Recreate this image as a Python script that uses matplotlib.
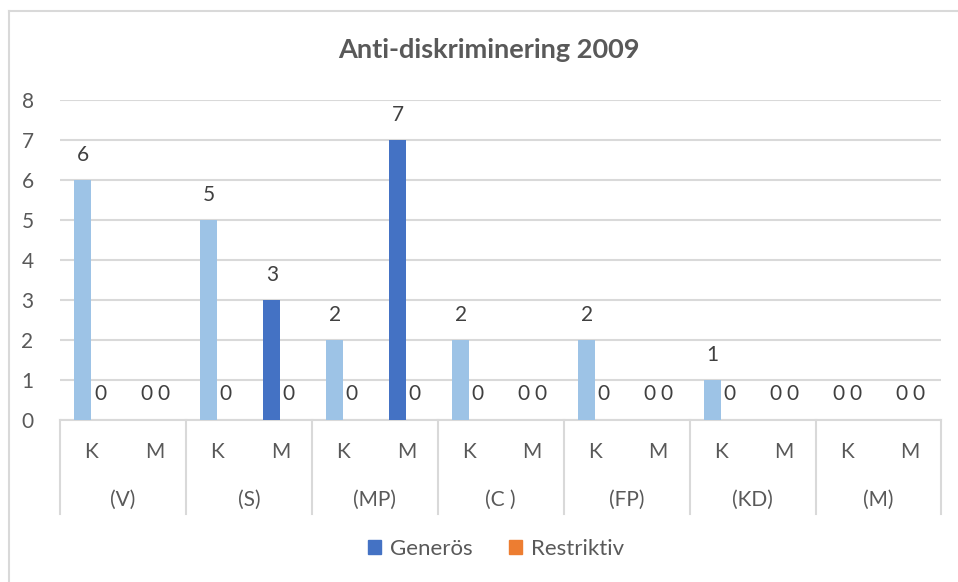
import matplotlib
matplotlib.use("Agg")
import matplotlib.pyplot as plt
from matplotlib.patches import Patch
from matplotlib.lines import Line2D
import numpy as np

plt.rcParams['font.family'] = ['Lato', 'DejaVu Sans']

title = "Anti-diskriminering 2009"
parties = ["(V)", "(S)", "(MP)", "(C )", "(FP)", "(KD)", "(M)"]
subcats = ["K", "M"]
generos = [6, 0, 5, 3, 2, 7, 2, 0, 2, 0, 1, 0, 0, 0]
restriktiv = [0, 0, 0, 0, 0, 0, 0, 0, 0, 0, 0, 0, 0, 0]
series_names = ["Generös", "Restriktiv"]
yticks = [0, 1, 2, 3, 4, 5, 6, 7, 8]

DARK = "#4472C4"
LIGHT = "#9DC3E6"
ORANGE = "#ED7D31"
GRID = "#D9D9D9"
TXT = "#595959"

W, H = 958, 582
fig = plt.figure(figsize=(W / 100, H / 100), dpi=100)

def px(x0, y0, x1, y1):
    return [x0 / W, 1 - y1 / H, (x1 - x0) / W, (y1 - y0) / H]

# outer chart border (cropped screenshot: only left and top visible)
fig.add_artist(Line2D([9 / W, 9 / W], [0, 1 - 11 / H], transform=fig.transFigure, color=GRID, lw=1.5))
fig.add_artist(Line2D([9 / W, 1], [1 - 11 / H, 1 - 11 / H], transform=fig.transFigure, color=GRID, lw=1.5))

ax = fig.add_axes(px(60, 100.5, 941.5, 419.5))
n = len(generos)
x = np.arange(n) + 0.5
bw = 0.27
gcolors = [LIGHT if i % 2 == 0 else DARK for i in range(n)]
ax.bar(x - bw / 2, generos, width=bw, color=gcolors, zorder=3)
ax.bar(x + bw / 2, restriktiv, width=bw, color=ORANGE, zorder=3)

FS = 15
for xi, v in zip(x - bw / 2, generos):
    ax.annotate(str(v), (xi, v), xytext=(0, 25), textcoords="offset pixels",
                ha="center", va="center", fontsize=FS, color="#404040")
for xi, v in zip(x + bw / 2, restriktiv):
    ax.annotate(str(v), (xi, v), xytext=(0, 25), textcoords="offset pixels",
                ha="center", va="center", fontsize=FS, color="#404040")

ax.set_xlim(0, n)
ax.set_ylim(0, 8)
ax.set_yticks(yticks)
ax.set_yticklabels([str(t) for t in yticks], fontsize=FS, color=TXT)
ax.yaxis.grid(True, color=GRID, lw=1.5, zorder=0)
ax.set_axisbelow(True)
ax.tick_params(axis="y", length=0, pad=19)
ax.set_xticks([])
for s in ["top", "right", "left"]:
    ax.spines[s].set_visible(False)
ax.spines["bottom"].set_color(GRID)
ax.spines["bottom"].set_linewidth(1.5)

# multi-level category labels
trans = ax.get_xaxis_transform()
for i in range(n):
    ax.text(x[i], -32 / 319, subcats[i % 2], transform=trans, ha="center", va="center",
            fontsize=FS, color=TXT)
for j, p in enumerate(parties):
    ax.text(2 * j + 1, -80 / 319, p, transform=trans, ha="center", va="center",
            fontsize=FS, color=TXT)
for j in range(len(parties) + 1):
    ax.add_line(Line2D([2 * j, 2 * j], [0, -94 / 319], transform=trans, color=GRID,
                       lw=1.5, clip_on=False))

fig.text(489 / W, 1 - 50 / H, title, ha="center", va="center", fontsize=19.5,
         fontweight="bold", color=TXT)

handles = [Patch(color=DARK), Patch(color=ORANGE)]
fig.legend(handles, series_names, loc="center", bbox_to_anchor=(496 / W, 1 - 549 / H),
           ncol=2, frameon=False, fontsize=16, handlelength=0.6, handleheight=0.6,
           handletextpad=0.4, columnspacing=1.6, labelcolor=TXT)

fig.savefig("out.png", dpi=100)
